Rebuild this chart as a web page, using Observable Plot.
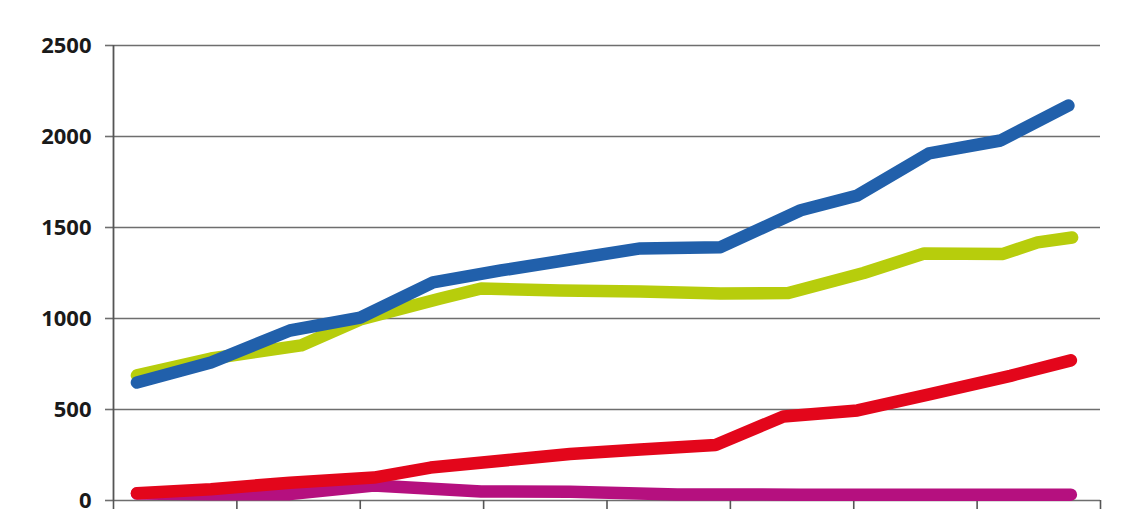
<!DOCTYPE html>
<html>
<head>
<meta charset="utf-8">
<script src="https://cdn.jsdelivr.net/npm/d3@7"></script>
<script src="https://cdn.jsdelivr.net/npm/@observablehq/plot@0.6"></script>
<style>
  html, body { margin: 0; padding: 0; background: #fff; }
  #chart svg { display: block; }
</style>
</head>
<body>
<div id="chart"></div>
<script>
const xTicks = [0, 1, 2, 3, 4, 5, 6, 7, 8];
const yTicks = [0, 500, 1000, 1500, 2000, 2500];

const blueX = [0.19, 0.79, 1.43, 2.00, 2.59, 3.14, 3.70, 4.27, 4.92, 5.57, 6.03, 6.61, 7.19, 7.74];
const blueY = [648, 758, 934, 1005, 1198, 1264, 1324, 1385, 1392, 1595, 1676, 1907, 1978, 2170];

const greenX = [0.19, 0.79, 1.52, 2.00, 2.65, 2.98, 3.62, 4.27, 4.92, 5.47, 6.08, 6.57, 7.21, 7.49, 7.77];
const greenY = [687, 780, 852, 995, 1110, 1165, 1154, 1148, 1137, 1140, 1250, 1357, 1355, 1418, 1445];

const redX = [0.19, 0.79, 1.43, 2.11, 2.57, 3.24, 3.70, 4.27, 4.88, 5.43, 6.03, 6.62, 7.27, 7.76];
const redY = [40, 62, 98, 126, 181, 225, 255, 280, 305, 462, 495, 585, 685, 770];

const magentaX = [0.19, 0.79, 1.43, 2.11, 2.98, 3.70, 4.57, 5.57, 6.57, 7.76];
const magentaY = [38, 35, 35, 82, 50, 48, 33, 32, 32, 32];

const seriesNames = ["magenta", "red", "green", "blue"];
const seriesColors = ["#b5107f", "#e3061b", "#b7cd0c", "#2160ab"];
const seriesX = [magentaX, redX, greenX, blueX];
const seriesY = [magentaY, redY, greenY, blueY];

const rows = [];
seriesNames.forEach((name, i) => {
  seriesX[i].forEach((x, j) => rows.push({series: name, x, y: seriesY[i][j]}));
});

const lineOpts = {strokeWidth: 12.5, strokeLinecap: "round", strokeLinejoin: "round"};

const chart = Plot.plot({
  width: 1132,
  height: 509,
  marginLeft: 113,
  marginRight: 32,
  marginTop: 45,
  marginBottom: 9,
  style: {fontFamily: "'Open Sans', 'DejaVu Sans', sans-serif", background: "#fff"},
  x: {domain: [0, 8], axis: null},
  y: {domain: [0, 2500], axis: null},
  marks: [
    Plot.ruleY(yTicks, {stroke: "#6e6e6e", strokeWidth: 1.6}),
    Plot.axisY({
      ticks: yTicks, tickSize: 8, tickPadding: 14, fontSize: 22, fontWeight: 700,
      tickFormat: d => String(d),
      stroke: "#6e6e6e", fill: "#1a1a1a", label: null, strokeWidth: 1.6
    }),
    Plot.axisX({
      ticks: xTicks, tickSize: 12, tickFormat: () => "", label: null,
      stroke: "#555", strokeWidth: 1.6
    }),
    Plot.ruleX([0], {stroke: "#555", strokeWidth: 1.8}),
    ...seriesNames.map((name, i) =>
      Plot.line(rows.filter(d => d.series === name), {x: "x", y: "y", stroke: seriesColors[i], ...lineOpts})
    )
  ]
});
document.getElementById("chart").appendChild(chart);
</script>
</body>
</html>
